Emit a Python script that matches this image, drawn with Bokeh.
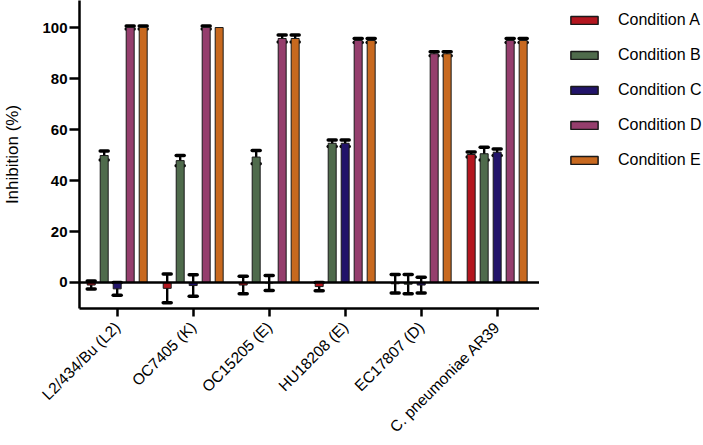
import numpy as np
from bokeh.plotting import figure
from bokeh.layouts import row
from bokeh.models import (ColumnDataSource, Range1d, FixedTicker, Whisker, TeeHead,
                          Legend, LegendItem, Span)
from bokeh.transform import dodge
from bokeh.embed import file_html
from bokeh.resources import INLINE

categories = ["L2/434/Bu (L2)", "OC7405 (K)", "OC15205 (E)", "HU18208 (E)",
              "EC17807 (D)", "C. pneumoniae AR39"]
conditions = ["Condition A", "Condition B", "Condition C", "Condition D", "Condition E"]

cond_a = [-1.0, -2.3, -1.0, -1.6, -0.5, 50.2]
cond_a_err = [1.6, 5.6, 3.4, 1.6, 3.6, 1.0]
cond_b = [49.8, 47.8, 49.2, 54.6, -0.65, 50.5]
cond_b_err = [1.8, 2.0, 2.6, 1.3, 3.8, 2.5]
cond_c = [-2.5, -1.2, -0.2, 54.6, -1.0, 51.1]
cond_c_err = [2.5, 4.2, 2.9, 1.3, 3.1, 1.3]
cond_d = [100.0, 100.0, 95.7, 94.9, 89.7, 94.9]
cond_d_err = [0.6, 0.6, 1.4, 0.8, 0.8, 0.8]
cond_e = [100.0, 100.0, 95.7, 94.9, 89.7, 94.9]
cond_e_err = [0.6, 0.0, 1.4, 0.8, 0.8, 0.8]

y_ticks = [0, 20, 40, 60, 80, 100]

colors = ["#B3161F", "#4F6B4C", "#22146A", "#953E6D", "#C8691F"]
series = [(cond_a, cond_a_err), (cond_b, cond_b_err), (cond_c, cond_c_err),
          (cond_d, cond_d_err), (cond_e, cond_e_err)]

FONT = "Liberation Sans"

p = figure(frame_width=460, frame_height=308, output_backend="svg", toolbar_location=None,
           x_range=Range1d(-0.496, 5.557), y_range=Range1d(-10.2, 110.6),
           min_border_left=78, min_border_right=0, min_border_top=0, min_border_bottom=0)
p.outline_line_color = None
p.xgrid.visible = False
p.ygrid.visible = False
p.background_fill_color = "white"
p.border_fill_color = "white"

# legend panel figure
pl = figure(frame_width=137, frame_height=308, output_backend="svg", toolbar_location=None,
            x_range=Range1d(0, 1), y_range=Range1d(0, 1),
            x_axis_type=None, y_axis_type=None,
            min_border_left=28, min_border_right=0, min_border_top=0, min_border_bottom=137)
pl.outline_line_color = None
pl.xgrid.visible = False
pl.ygrid.visible = False
pl.border_fill_color = "white"
pl.background_fill_color = "white"

xs = list(range(len(categories)))
pitch = 0.171
leg_renderers = []
for i, ((vals, errs), col) in enumerate(zip(series, colors)):
    src = ColumnDataSource(dict(x=xs, top=vals))
    off = (i - 2) * pitch
    p.vbar(x=dodge("x", off, range=p.x_range), top="top", bottom=0, width=0.105,
           source=src, fill_color=col, line_color="#1a1a1a", line_width=1)
    keep = [k for k, e in enumerate(errs) if e > 0]
    esrc = ColumnDataSource(dict(x=[xs[k] for k in keep],
                                 upper=[vals[k] + errs[k] for k in keep],
                                 lower=[vals[k] - errs[k] for k in keep]))
    w = Whisker(base=dodge("x", off, range=p.x_range), upper="upper", lower="lower",
                source=esrc, line_color="black", line_width=2.4,
                upper_head=TeeHead(size=8, line_width=3.5, line_color="black", line_cap="round"),
                lower_head=TeeHead(size=8, line_width=3.5, line_color="black", line_cap="round"))
    p.add_layout(w)
    lr = pl.vbar(x="x", top="top", bottom=0, width=0.1, source=src, fill_color=col,
                 line_color="#1a1a1a", line_width=1.5)
    lr.visible = False
    leg_renderers.append(lr)

p.add_layout(Span(location=0, dimension="width", line_color="black", line_width=2.5))

# y axis
ya = p.yaxis[0]
ya.ticker = FixedTicker(ticks=y_ticks)
ya.axis_label = "Inhibition (%)"
ya.axis_label_text_font = FONT
ya.axis_label_text_font_size = "17px"
ya.axis_label_text_font_style = "normal"
ya.axis_label_text_color = "black"
ya.axis_label_standoff = 17
ya.major_label_text_font = FONT
ya.major_label_text_font_size = "15px"
ya.major_label_text_font_style = "bold"
ya.major_label_text_color = "black"
ya.major_label_standoff = 2
ya.major_tick_out = 10
ya.major_tick_in = 0
ya.minor_tick_out = 0
ya.minor_tick_in = 0
ya.axis_line_width = 2.5
ya.major_tick_line_width = 2.5
ya.axis_line_color = "black"
ya.major_tick_line_color = "black"

# x axis
xa = p.xaxis[0]
xa.ticker = FixedTicker(ticks=xs)
xa.major_label_overrides = {x: c for x, c in zip(xs, categories)}
xa.major_label_orientation = np.pi / 4
xa.major_label_text_font = FONT
xa.major_label_text_font_size = "15.5px"
xa.major_label_text_color = "black"
xa.major_label_standoff = 8
xa.major_tick_out = 8
xa.major_tick_in = 0
xa.minor_tick_out = 0
xa.minor_tick_in = 0
xa.axis_line_width = 2.5
xa.major_tick_line_width = 2.5
xa.axis_line_color = "black"
xa.major_tick_line_color = "black"

items = [LegendItem(label=c, renderers=[r]) for c, r in zip(conditions, leg_renderers)]
legend = Legend(items=items, location=(0, 139), padding=0, margin=0,
                glyph_width=34, glyph_height=10, label_standoff=17,
                label_text_font=FONT, label_text_font_size="16px",
                label_text_color="black", spacing=17, label_height=10,
                border_line_color=None, background_fill_alpha=0)
pl.add_layout(legend, "center")

layout = row(p, pl)
open("out.html", "w").write(file_html(layout, INLINE))
